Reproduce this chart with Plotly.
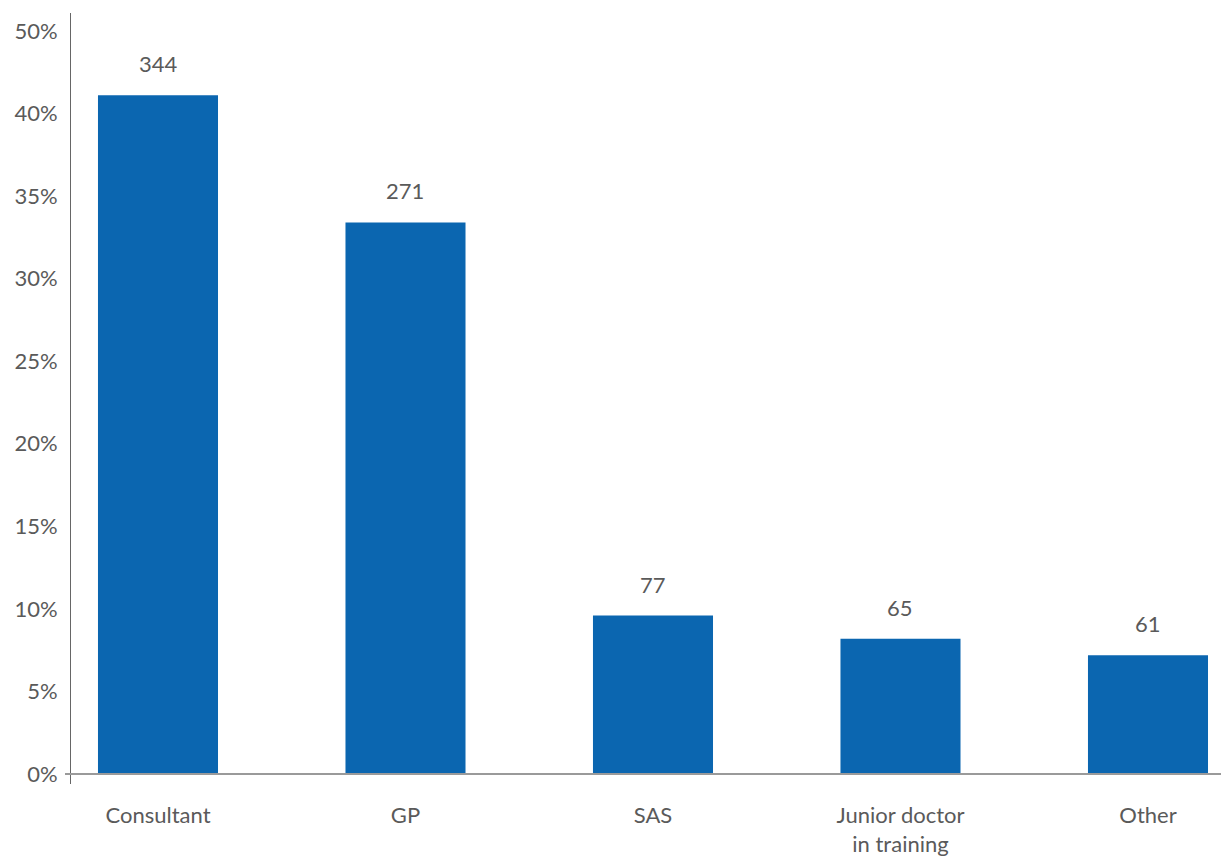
import plotly.graph_objects as go

categories = ["Consultant", "GP", "SAS", "Junior doctor<br>in training", "Other"]
percent_values = [41.1, 33.4, 9.6, 8.2, 7.2]
count_labels = ["344", "271", "77", "65", "61"]
tick_vals = [0, 5, 10, 15, 20, 25, 30, 35, 40, 45]
tick_text = ["0%", "5%", "10%", "15%", "20%", "25%", "30%", "35%", "40%", "50%"]

font_family = "Lato, 'Open Sans', sans-serif"
text_color = "#5a5a5a"
fsize = 22

fig = go.Figure()
fig.add_trace(go.Bar(
    x=list(range(len(categories))),
    y=percent_values,
    marker=dict(color="#0b66b0", line=dict(width=0)),
    width=0.485,
    hoverinfo="skip",
))

for i, (v, lab) in enumerate(zip(percent_values, count_labels)):
    fig.add_annotation(x=i, y=v, text=lab, showarrow=False, yanchor="bottom",
                       yshift=16, font=dict(size=fsize, color=text_color, family=font_family))

fig.add_shape(type="line", xref="paper", yref="y", x0=-6 / 1150, x1=1, y0=0, y1=0,
              line=dict(color="#9a9a9a", width=2), layer="above")

fig.update_layout(
    width=1221, height=857,
    margin=dict(l=71, r=0, t=13, b=69),
    plot_bgcolor="white", paper_bgcolor="white",
    showlegend=False,
    font=dict(family=font_family, size=fsize, color=text_color),
    xaxis=dict(
        range=[-0.3515, 4.295],
        tickvals=list(range(len(categories))),
        ticktext=categories,
        showgrid=False, zeroline=False, showline=False,
        ticks="", ticklabelstandoff=16,
        tickfont=dict(size=fsize, color=text_color),
        fixedrange=True,
    ),
    yaxis=dict(
        range=[-0.6, 46.08],
        tickvals=tick_vals,
        ticktext=tick_text,
        showgrid=False, zeroline=False,
        showline=True, linecolor="#666666", linewidth=1,
        ticks="", ticklabelstandoff=8,
        tickfont=dict(size=fsize, color=text_color),
        fixedrange=True,
    ),
)

fig.write_html("out.html")
